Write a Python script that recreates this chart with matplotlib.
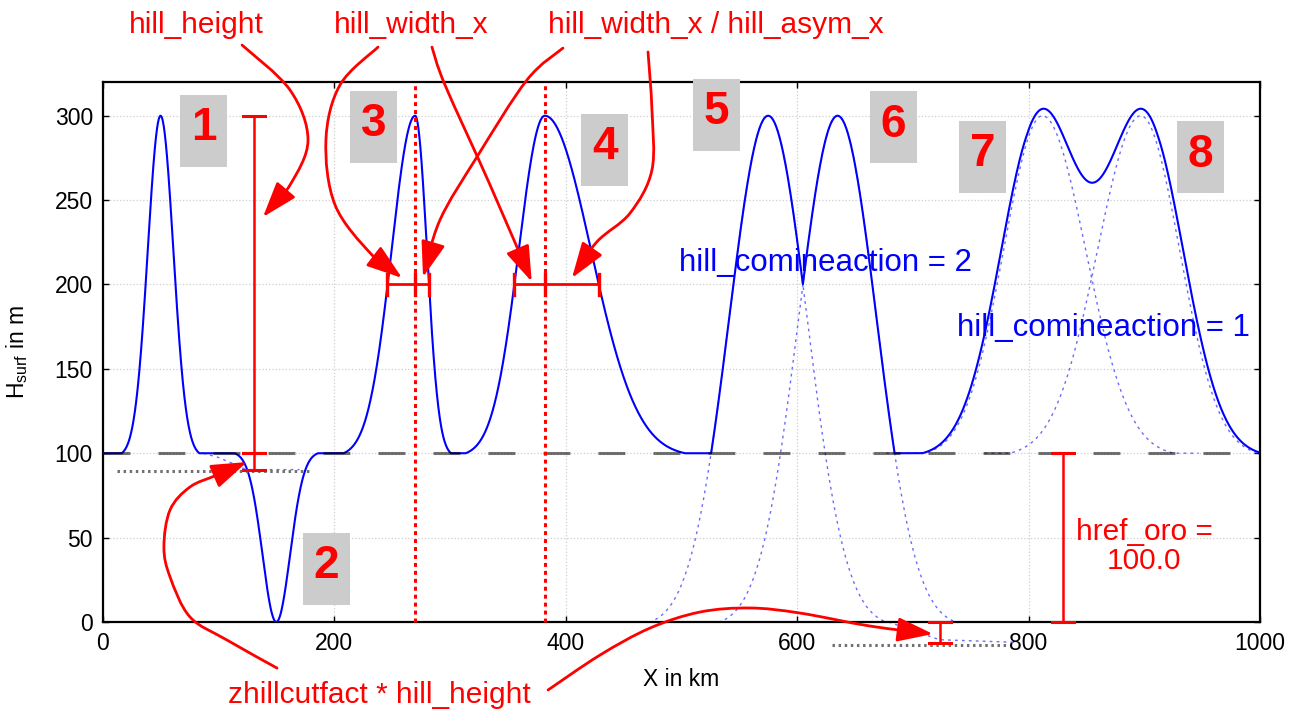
import numpy as np
import matplotlib
matplotlib.use('Agg')
import matplotlib.pyplot as plt
from matplotlib.path import Path
from matplotlib.patches import FancyArrowPatch, Rectangle

plt.rcParams['font.family'] = ['Liberation Sans', 'DejaVu Sans']
plt.rcParams['mathtext.fontset'] = 'custom'
plt.rcParams['mathtext.rm'] = 'Liberation Sans'
plt.rcParams['mathtext.it'] = 'Liberation Sans:italic'

# reference height of the orography
HREF_ORO = 100.0
# relative level where a gaussian hill is cut off
CUT = 0.01

# hills 1-4: position, height, half width (at half height) left / right
single_x = [50, 150, 270, 382]
single_h = [200, -100, 200, 200]
single_wl = [13, 14, 24, 26.5]
single_wr = [13, 14, 12, 47]

# hills 5/6, hill_comineaction = 2 (maximum), heights counted from 0
max_x = [575, 635]
max_h = [300, 300]
max_w = [39.5, 39.5]

# hills 7/8, hill_comineaction = 1 (sum)
sum_x = [810, 900]
sum_h = [200, 200]
sum_w = [39.5, 39.5]
# hills 7/8 each on its own
sep_x = [812, 897]
sep_h = [200, 200]
sep_wl = [39.5, 44]
sep_wr = [44, 39.5]

# cut level markers
zcut_bar_x = [131, 723.5]
zcut_bar_top = [100, 0]
zcut_bar_bot = [90, -12.5]
cut_line_x = [(12, 181), (630, 782)]
cut_line_y = [89.2, -13.5]
# tails of the cut hills
tail1_x = [87, 100, 112, 124, 170]
tail1_y = [100, 97.5, 94, 90.3, 90.3]
tail2_x = [679, 700, 723, 787]
tail2_y = [0, -5, -10.5, -12]

height_bar_x = 131
href_bar_x = 830

# numbered labels
box_lab = ['1', '2', '3', '4', '5', '6', '7', '8']
box_x = [87.3, 193.2, 234.2, 433.8, 530, 682.9, 760.5, 948.6]
box_y = [291.0, 31.4, 293.5, 279.9, 300.5, 293.3, 275.7, 275.4]


def hill(x, xc, h, wl, wr, cut=CUT):
    w = np.where(x < xc, wl, wr)
    g = 2.0 ** (-((x - xc) / w) ** 2)
    return h * np.clip((g - cut) / (1 - cut), 0, None)


def smooth_path(pts):
    # catmull-rom through the points, as cubic bezier segments
    p = np.asarray(pts, float)
    ext = np.vstack([p[0], p, p[-1]])
    verts = [p[0]]
    codes = [Path.MOVETO]
    for i in range(1, len(ext) - 2):
        p0, p1, p2, p3 = ext[i - 1], ext[i], ext[i + 1], ext[i + 2]
        verts += [p1 + (p2 - p0) / 6, p2 - (p3 - p1) / 6, p2]
        codes += [Path.CURVE4] * 3
    return Path(verts, codes)


xs = np.linspace(0, 1000, 4001)
hsurf = np.full_like(xs, HREF_ORO)
for c, h, wl, wr in zip(single_x, single_h, single_wl, single_wr):
    hsurf += hill(xs, c, h, wl, wr)
for c, h, w in zip(max_x, max_h, max_w):
    hsurf = np.maximum(hsurf, hill(xs, c, h, w, w))
for c, h, w in zip(sum_x, sum_h, sum_w):
    hsurf += hill(xs, c, h, w, w)

fig = plt.figure(figsize=(13.01, 7.16), dpi=100)
ax = fig.add_axes([102.7 / 1301, 94 / 716, 1157.3 / 1301, 540 / 716])
ax.set_xlim(0, 1000)
ax.set_ylim(0, 320)
ax.set_xticks(np.arange(0, 1001, 200))
ax.set_yticks(np.arange(0, 301, 50))
ax.grid(True, color='#cfcfcf', linestyle=':', linewidth=0.9)
ax.set_axisbelow(True)
ax.tick_params(direction='in', top=True, right=True, length=4, width=1,
               labelsize=16.5, pad=7)
for s in ax.spines.values():
    s.set_linewidth(1.6)

dot_blue = dict(color='#6b6bff', lw=1.0, linestyle=(0, (2, 3)))
for c, h, w in zip(max_x, max_h, max_w):
    xd = np.linspace(c - 235, c + 235, 600)
    ax.plot(xd, hill(xd, c, h, w, w), clip_on=False, **dot_blue)
for c, h, wl, wr in zip(sep_x, sep_h, sep_wl, sep_wr):
    xd = np.linspace(c - 135, c + 135, 400)
    ax.plot(xd, HREF_ORO + hill(xd, c, h, wl, wr), **dot_blue)
ax.plot(tail1_x, tail1_y, **dot_blue)
ax.plot(tail2_x, tail2_y, clip_on=False, **dot_blue)

ax.plot(xs, hsurf, color='#0000ff', lw=1.5, zorder=3)
ax.axhline(HREF_ORO, color='black', alpha=0.55, lw=2.2,
           linestyle=(0, (8.8, 9.2)), zorder=4)

for (x0, x1), y in zip(cut_line_x, cut_line_y):
    ax.plot([x0, x1], [y, y], color='#707070', lw=2.2,
            linestyle=(0, (0.8, 1.2)), clip_on=False, zorder=4)

red = '#ff0000'
capx = 9.5
capy = 6.2


def vbar(x, y0, y1):
    ax.plot([x, x], [y0, y1], color=red, lw=1.8, clip_on=False, zorder=5)
    for y in (y0, y1):
        ax.plot([x - capx, x + capx], [y, y], color=red, lw=2.2,
                clip_on=False, zorder=5)


vbar(height_bar_x, HREF_ORO, HREF_ORO + single_h[0])
for x, y0, y1 in zip(zcut_bar_x, zcut_bar_top, zcut_bar_bot):
    vbar(x, y0, y1)
vbar(href_bar_x, 0, HREF_ORO)

# half widths of hills 3 and 4
for i in (2, 3):
    c = single_x[i]
    y = HREF_ORO + single_h[i] / 2
    ax.plot([c - single_wl[i], c + single_wr[i]], [y, y], color=red, lw=2.0, zorder=5)
    for x in (c - single_wl[i], c, c + single_wr[i]):
        ax.plot([x, x], [y - capy, y + capy], color=red, lw=2.4, zorder=5)
    ax.plot([c, c], [0, 318], color=red, lw=2.2, linestyle=(0, (1.3, 1.3)),
            zorder=5, clip_on=False)

for lab, x, y in zip(box_lab, box_x, box_y):
    ax.add_patch(Rectangle((x - 20.3, y - 21.4), 40.6, 42.7, facecolor='#cccccc',
                           edgecolor='none', zorder=6, clip_on=False))
    ax.text(x, y + 1.5, lab, color=red, fontsize=33, fontweight='bold',
            ha='center', va='center', zorder=7, clip_on=False)

txt = dict(color=red, fontsize=21.5, ha='center', va='center', clip_on=False)
ax.text(81, 354, 'hill_height', **txt)
ax.text(266.4, 354, 'hill_width_x', **txt)
ax.text(530, 354, 'hill_width_x / hill_asym_x', **txt)
ax.text(239.2, -43.3, 'zhillcutfact * hill_height', **txt)
ax.text(899.8, 44.7, 'href_oro =\n100.0', linespacing=1.05, **txt)

ax.text(624.8, 212.6, 'hill_comineaction = 2', color='#0000ff', fontsize=22.5,
        ha='center', va='center', zorder=6)
ax.text(865, 174, 'hill_comineaction = 1', color='#0000ff', fontsize=22.5,
        ha='center', va='center', zorder=6)

arrows = [
    [(120.4, 341.9), (161.8, 315.3), (177.4, 285.6), (161.8, 258.9), (138.5, 240)],
    [(237.9, 340.7), (205.0, 318.2), (192.9, 285.6), (200.8, 247.1), (232.7, 217.5), (258.6, 203.9)],
    [(284.5, 340.7), (295.8, 318.2), (334.7, 259.0), (370.7, 201.7)],
    [(397.7, 340.1), (366.6, 321.2), (323.4, 275.6), (291.4, 238.2), (276.8, 204.4)],
    [(471.2, 337.8), (474.6, 303.4), (474.6, 267.9), (455.8, 242.4), (426.9, 225.2), (405.5, 203.9)],
    [(150.6, -27.3), (107.4, -10.7), (75.4, 3.0), (58.2, 26.7), (52.9, 44.4), (58.2, 66.4),
     (75.4, 80.0), (98.8, 87.1), (124.7, 94.8)],
    [(384.8, -40.3), (429.7, -19.6), (472.9, -3.6), (516.1, 5.9), (559.3, 8.3),
     (602.5, 5.3), (663.0, -2.4), (717.4, -7.1)],
]
for pts in arrows:
    ax.add_patch(FancyArrowPatch(path=smooth_path(pts),
                                 arrowstyle='-|>,head_length=2.2,head_width=0.75',
                                 mutation_scale=10, color=red, lw=2.0,
                                 transform=ax.transData, clip_on=False, zorder=8))

ax.set_xlabel('X in km', fontsize=16.5)
ax.set_ylabel(r'H$_\mathregular{surf}$ in m', fontsize=16.5)
ax.xaxis.set_label_coords(0.5, -0.085)
ax.yaxis.set_label_coords(-0.063, 0.5)

fig.savefig('out.png', dpi=100)
